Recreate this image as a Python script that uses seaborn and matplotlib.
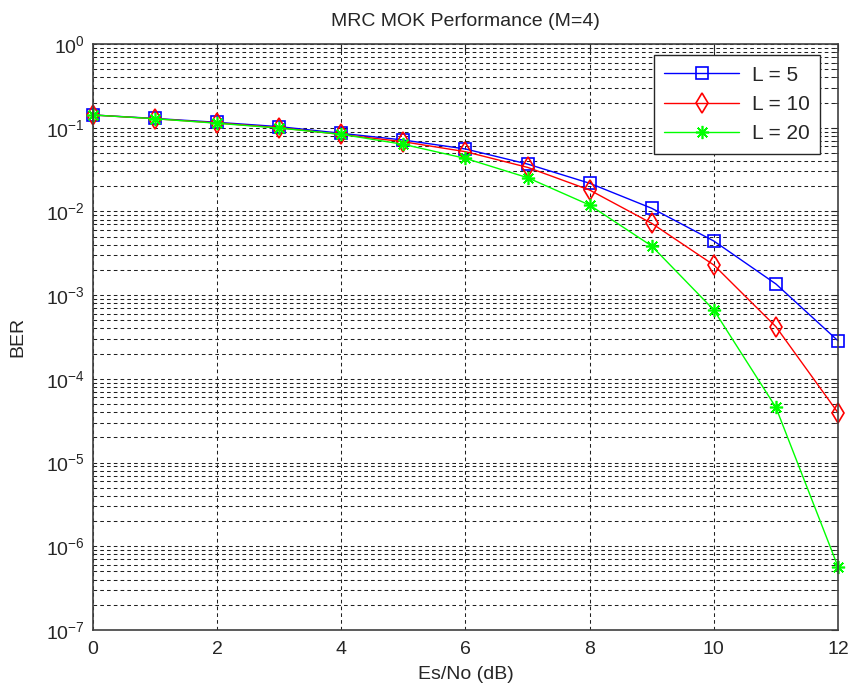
import numpy as np
import pandas as pd
import matplotlib
matplotlib.use("Agg")
import matplotlib.pyplot as plt
import seaborn as sns
from matplotlib.ticker import LogLocator, NullFormatter

snr_db = [0, 1, 2, 3, 4, 5, 6, 7, 8, 9, 10, 11, 12]
ber_L5 = [0.142, 0.129, 0.116, 0.103, 0.0857, 0.0713, 0.0557, 0.0368, 0.0217, 0.0109, 0.00443, 0.00136, 0.000285]
ber_L10 = [0.142, 0.128, 0.114, 0.100, 0.083, 0.068, 0.0517, 0.0336, 0.018, 0.0072, 0.00229, 0.00042, 3.94e-5]
ber_L20 = [0.142, 0.128, 0.113, 0.099, 0.0834, 0.0633, 0.043, 0.0253, 0.0119, 0.00386, 0.000664, 4.56e-5, 5.69e-7]
labels = ["L = 5", "L = 10", "L = 20"]

df = pd.concat([
    pd.DataFrame({"snr": snr_db, "ber": b, "L": lab})
    for b, lab in zip([ber_L5, ber_L10, ber_L20], labels)
])

sns.set_style("white")
plt.rcParams['font.family'] = ['Liberation Sans', 'DejaVu Sans']
plt.rcParams['mathtext.fontset'] = 'custom'
plt.rcParams['mathtext.rm'] = 'Liberation Sans'
plt.rcParams['mathtext.it'] = 'Liberation Sans'

fig = plt.figure(figsize=(8.51, 6.96), dpi=100)
ax = fig.add_axes([93/851, 1-630/696, (838-93)/851, (630-44)/696])

palette = {"L = 5": "#0000ff", "L = 10": "#ff0000", "L = 20": "#00ff00"}
markers = {"L = 5": "s", "L = 10": "d", "L = 20": (8, 2, 0)}
msize = {"L = 5": 9, "L = 10": 10, "L = 20": 9.5}
for lab in labels:
    sub = df[df["L"] == lab]
    sns.lineplot(data=sub, x="snr", y="ber", ax=ax, color=palette[lab], marker=markers[lab],
                 linewidth=1.0, label=lab, markerfacecolor='none',
                 markeredgecolor=palette[lab], markeredgewidth=1.2,
                 markersize=msize[lab], clip_on=False)

ax.set_yscale("log")
ax.set_xlim(0, 12)
ax.set_ylim(1e-7, 1)
ax.set_xticks(range(0, 13, 2))
ax.yaxis.set_major_locator(LogLocator(base=10, numticks=20))
ax.yaxis.set_minor_locator(LogLocator(base=10, subs=np.arange(2, 10), numticks=100))
ax.yaxis.set_minor_formatter(NullFormatter())

gridkw = dict(color='#202020', linestyle=(0, (3.5, 3)), linewidth=0.75)
ax.grid(True, which='major', axis='both', **gridkw)
ax.grid(True, which='minor', axis='y', **gridkw)
ax.set_axisbelow(True)

ax.tick_params(axis='both', which='both', direction='in', top=True, right=True,
               labelsize=14, colors='#262626', length=5)
ax.tick_params(axis='x', which='major', pad=8)
ax.tick_params(axis='y', which='major', pad=6)
ax.tick_params(axis='both', which='minor', length=3)
for s in ax.spines.values():
    s.set_color('#404040')
    s.set_linewidth(1.2)
    s.set_visible(True)

ax.set_title("MRC MOK Performance (M=4)", fontsize=14, color='#262626', pad=13)
ax.set_xlabel("Es/No (dB)", fontsize=14, color='#262626', labelpad=6)
ax.set_ylabel("BER", fontsize=14, color='#262626', labelpad=14)

leg = ax.legend(loc='upper right', bbox_to_anchor=(0.976, 0.981), fontsize=15,
                frameon=True, fancybox=False, edgecolor='#262626', framealpha=1,
                borderaxespad=0, handlelength=3.6, labelspacing=0.5, borderpad=0.5,
                handletextpad=0.6)
leg.get_frame().set_linewidth(1.0)

fig.savefig("out.png", dpi=100)
